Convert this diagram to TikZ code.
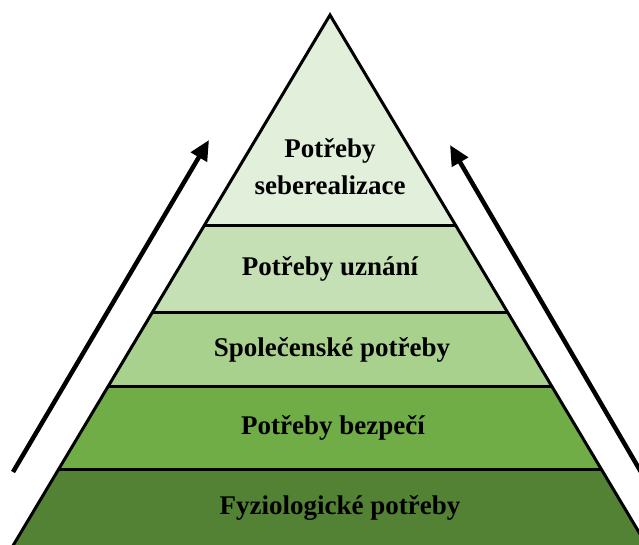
\documentclass[tikz,border=0pt]{standalone}
\usepackage{fontspec}
\setmainfont{Liberation Serif}
\usetikzlibrary{arrows.meta}
\definecolor{lvA}{HTML}{E2EFDA}
\definecolor{lvB}{HTML}{C5E0B4}
\definecolor{lvC}{HTML}{A9D18E}
\definecolor{lvD}{HTML}{70AD47}
\definecolor{lvE}{HTML}{548235}
\tikzset{
  lbl/.style={font=\fontsize{27}{37}\selectfont\bfseries, text=black, align=center, inner sep=0pt},
  sep/.style={line width=3pt, black},
  upar/.style={line width=4.5pt, black, -{Triangle[length=20pt,width=18pt]}}
}
\begin{document}
\begin{tikzpicture}[x=1pt,y=-1pt]
\useasboundingbox (0,0) rectangle (639,545);
\clip (0,0) rectangle (639,545);
% pyramid corners
\coordinate (apex) at (330,15);
\coordinate (bl) at (9.8,551);
\coordinate (br) at (650.2,551);
% layer boundary points
\coordinate (l1) at (204,226); \coordinate (r1) at (456,226);
\coordinate (l2) at (152.7,312); \coordinate (r2) at (507.3,312);
\coordinate (l3) at (108.5,386); \coordinate (r3) at (551.5,386);
\coordinate (l4) at (59,469); \coordinate (r4) at (601,469);
% fills
\fill[lvA] (apex) -- (r1) -- (l1) -- cycle;
\fill[lvB] (l1) -- (r1) -- (r2) -- (l2) -- cycle;
\fill[lvC] (l2) -- (r2) -- (r3) -- (l3) -- cycle;
\fill[lvD] (l3) -- (r3) -- (r4) -- (l4) -- cycle;
\fill[lvE] (l4) -- (r4) -- (br) -- (bl) -- cycle;
% separators
\draw[sep] (l1) -- (r1);
\draw[sep] (l2) -- (r2);
\draw[sep] (l3) -- (r3);
\draw[sep] (l4) -- (r4);
% outline
\draw[sep, line join=miter] (bl) -- (apex) -- (br);
% labels
\node[lbl] (t1) at (330,167) {Potřeby\\seberealizace};
\node[lbl] (t2) at (330,269) {Potřeby uznání};
\node[lbl] (t3) at (332,350) {Společenské potřeby};
\node[lbl] (t4) at (333,428) {Potřeby bezpečí};
\node[lbl] (t5) at (340,508) {Fyziologické potřeby};
% arrows
\coordinate (la0) at (13,472);
\coordinate (la1) at (209,140);
\coordinate (ra0) at (648,484);
\coordinate (ra1) at (450,145);
\draw[upar] (la0) -- (la1);
\draw[upar] (ra0) -- (ra1);
\end{tikzpicture}
\end{document}
